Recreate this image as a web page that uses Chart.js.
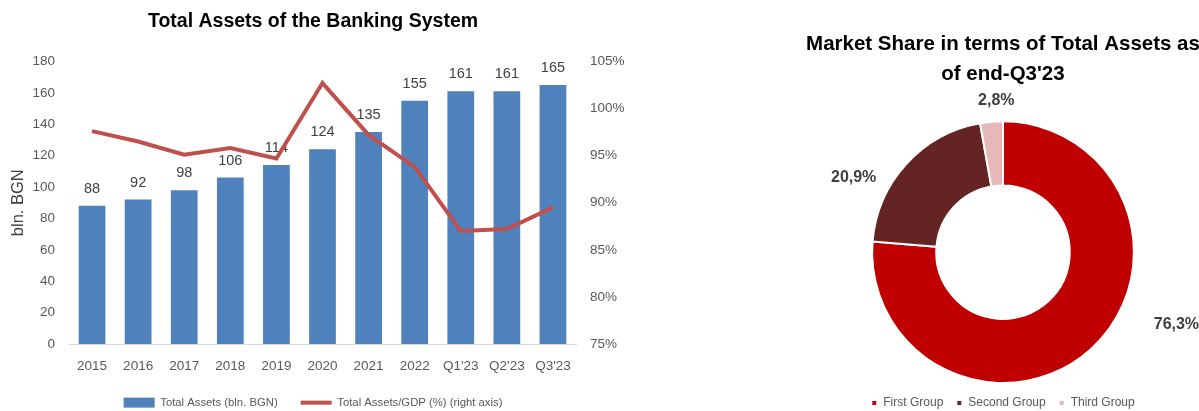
<!DOCTYPE html>
<html><head><meta charset="utf-8">
<script src="https://cdn.jsdelivr.net/npm/chart.js@4"></script>
<style>
html,body{margin:0;padding:0;background:#fff;overflow:hidden;width:1199px;height:411px;position:relative;}
#c1{position:absolute;left:-24px;top:0;}
#c2{position:absolute;left:783px;top:0;}
</style></head><body>
<canvas id="c1" width="674" height="411"></canvas>
<canvas id="c2" width="440" height="411"></canvas>
<script>
const categories = ['2015','2016','2017','2018','2019','2020','2021','2022',"Q1'23","Q2'23","Q3'23"];
const totalAssets = [88, 92, 98, 106, 114, 124, 135, 155, 161, 161, 165];
const assetsToGdp = [97.6, 96.5, 95.1, 95.8, 94.7, 102.7, 97.2, 93.8, 87.0, 87.2, 89.5];
const groups = ['First Group','Second Group','Third Group'];
const marketShare = [76.3, 20.9, 2.8];

const FONT = "'Liberation Sans',Arial,sans-serif";

const barLabels = {
  id:'barLabels',
  afterDatasetDraw(chart, args){
    if (args.index !== 0) return;
    const ctx = chart.ctx; ctx.save();
    ctx.font = '14.5px ' + FONT; ctx.fillStyle = '#404040';
    ctx.textAlign = 'center'; ctx.textBaseline = 'middle';
    args.meta.data.forEach((bar, i) => {
      ctx.fillText(String(chart.data.datasets[0].data[i]), bar.x, bar.y - 17);
    });
    ctx.restore();
  }
};

new Chart(document.getElementById('c1'), {
  type:'bar',
  data:{labels:categories, datasets:[
    {type:'bar', label:'Total Assets (bln. BGN)', data:totalAssets, backgroundColor:'#4F81BD',
     yAxisID:'y', order:1, categoryPercentage:1, barPercentage:0.58, pointStyle:'rect'},
    {type:'line', label:'Total Assets/GDP (%) (right axis)', data:assetsToGdp, borderColor:'#C0504D',
     backgroundColor:'#C0504D', borderWidth:4, pointRadius:0, yAxisID:'y1', order:0, tension:0, pointStyle:'line'}
  ]},
  options:{
    responsive:false, animation:false,
    layout:{padding:0},
    plugins:{
      title:{display:true, text:'Total Assets of the Banking System',
        font:{family:FONT, size:19.5, weight:'bold'}, color:'#000', padding:{top:10,bottom:28}},
      legend:{position:'bottom', maxHeight:37,
        labels:{usePointStyle:true, pointStyleWidth:31, boxHeight:10,
          font:{family:FONT, size:11.3}, color:'#595959', padding:23,
          sort:(a,b)=>a.datasetIndex-b.datasetIndex}},
      tooltip:{enabled:false}
    },
    scales:{
      x:{grid:{display:false, drawTicks:false}, border:{color:'#D9D9D9', width:1},
         ticks:{font:{family:FONT, size:13.5}, color:'#595959', padding:14, maxRotation:0, autoSkip:false},
         afterFit(s){ s.height = 30; }},
      y:{position:'left', min:0, max:180,
         ticks:{stepSize:20, font:{family:FONT, size:13.5}, color:'#595959', padding:14},
         grid:{display:false, drawTicks:false}, border:{display:false},
         title:{display:true, text:'bln. BGN', font:{family:FONT, size:16.5}, color:'#404040', padding:{top:33,bottom:0}},
         afterFit(s){ s.width = 93; }},
      y1:{position:'right', min:75, max:105,
         ticks:{stepSize:5, font:{family:FONT, size:13.5}, color:'#595959', padding:14, callback:v=>v+'%'},
         grid:{display:false, drawTicks:false}, border:{display:false},
         afterFit(s){ s.width = 74; }}
    }
  },
  plugins:[barLabels]
});

const fmtPct = v => v.toFixed(1).replace('.', ',') + '%';

const donutLabels = {
  id:'donutLabels',
  afterDatasetsDraw(chart, args, opts){
    const meta = chart.getDatasetMeta(0); const ctx = chart.ctx;
    ctx.save(); ctx.font = 'bold 16px ' + FONT; ctx.fillStyle = '#404040';
    ctx.textAlign = 'center'; ctx.textBaseline = 'middle';
    meta.data.forEach((arc, i) => {
      const p = opts.place[i];
      const a = arc.startAngle + (arc.endAngle - arc.startAngle) * p.frac;
      const r = arc.outerRadius + p.gap;
      ctx.fillText(fmtPct(chart.data.datasets[0].data[i]), arc.x + Math.cos(a) * r, arc.y + Math.sin(a) * r);
    });
    ctx.restore();
  }
};

new Chart(document.getElementById('c2'), {
  type:'doughnut',
  data:{labels:groups, datasets:[{data:marketShare,
    backgroundColor:['#C00000','#632423','#E6B9B8'], borderColor:'#ffffff', borderWidth:2}]},
  options:{
    responsive:false, animation:false, cutout:'51%',
    layout:{padding:0},
    plugins:{
      title:{display:true, text:['Market Share in terms of Total Assets as', "of end-Q3'23"],
        font:{family:FONT, size:20.5, weight:'bold', lineHeight:1.47}, color:'#000', padding:{top:29,bottom:31}},
      legend:{position:'bottom', maxHeight:27,
        labels:{boxWidth:6, boxHeight:6, font:{family:FONT, size:12}, color:'#595959', padding:13}},
      tooltip:{enabled:false},
      donutLabels:{place:[{frac:0.41, gap:57},{frac:0.29, gap:36},{frac:0.75, gap:21}]}
    }
  },
  plugins:[donutLabels]
});
</script>
</body></html>
